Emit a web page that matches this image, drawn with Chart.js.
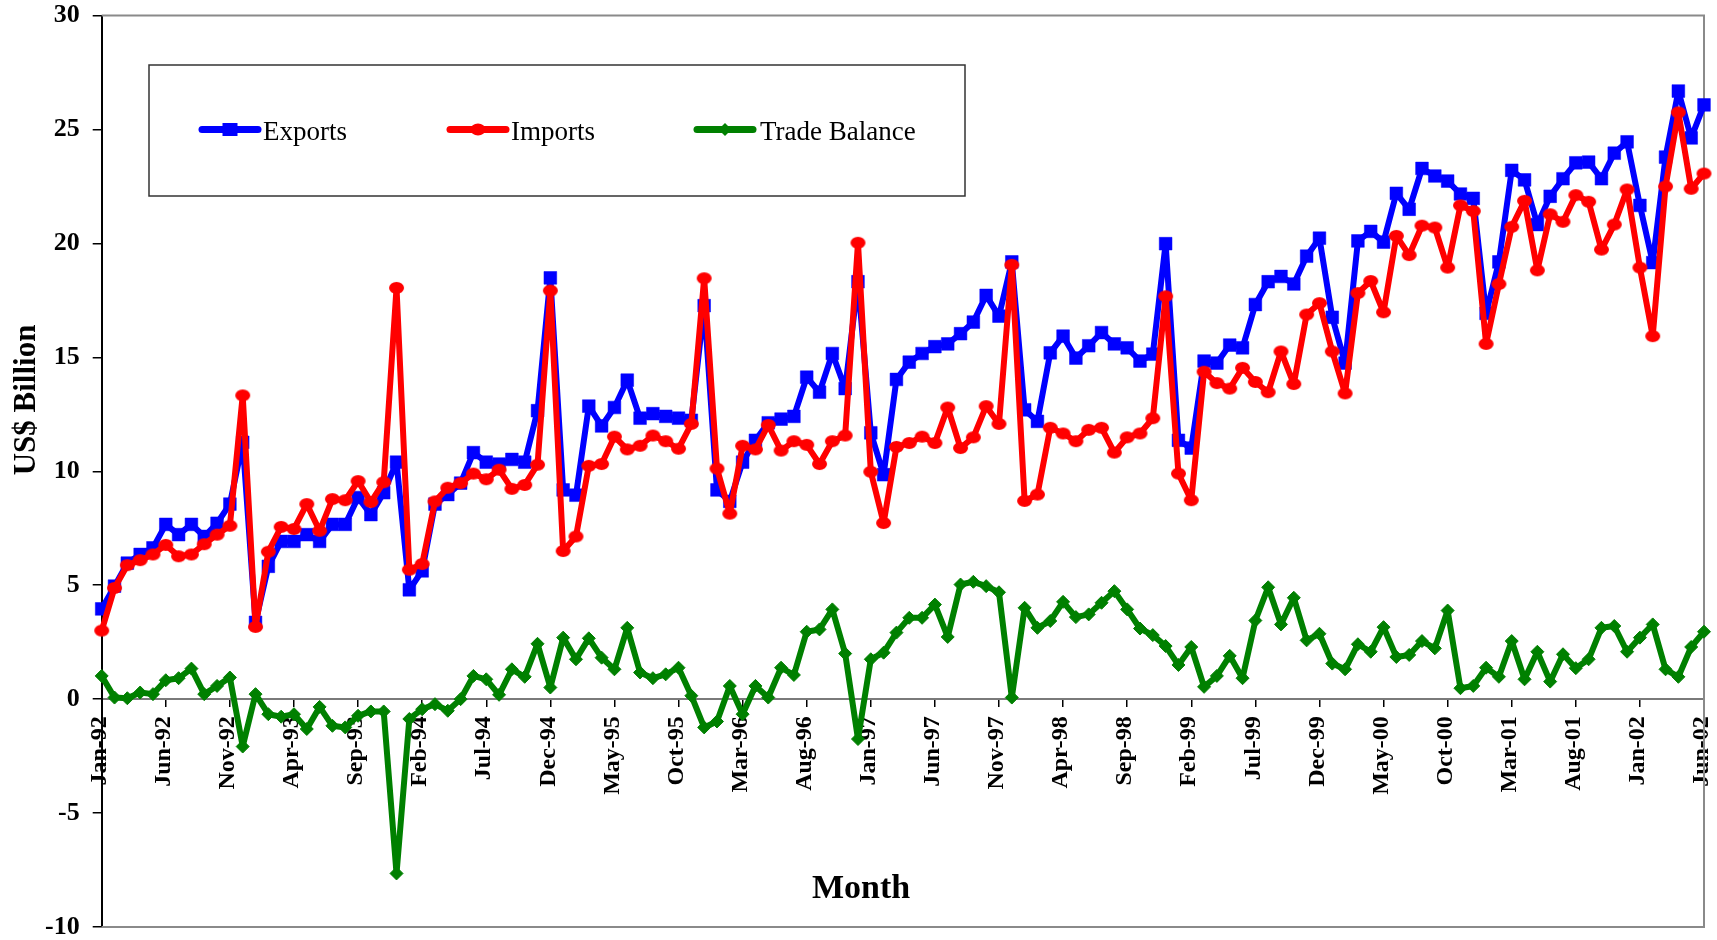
<!DOCTYPE html>
<html>
<head>
<meta charset="utf-8">
<title>Exports, Imports and Trade Balance</title>
<script src="https://cdn.jsdelivr.net/npm/chart.js@4.4.1/dist/chart.umd.min.js"></script>
<style>
  html, body { margin: 0; padding: 0; background: #ffffff; }
  #wrap { position: relative; width: 1717px; height: 940px; }
</style>
</head>
<body>
<div id="wrap"><canvas id="chart"></canvas></div>
<script>
// Monthly series, Jan-92 .. Jun-02, US$ billion
const MONTH_NAMES = ['Jan', 'Feb', 'Mar', 'Apr', 'May', 'Jun', 'Jul', 'Aug', 'Sep', 'Oct', 'Nov', 'Dec'];
const FIRST_YEAR = 1992;
const MONTH_COUNT = 126;
const categories = Array.from({ length: MONTH_COUNT }, (_, i) =>
  MONTH_NAMES[i % 12] + '-' + String((FIRST_YEAR + Math.floor(i / 12)) % 100).padStart(2, '0'));

// Month labels printed under the zero line
const TICK_LABELS = ['Jan-92', 'Jun-92', 'Nov-92', 'Apr-93', 'Sep-93', 'Feb-94', 'Jul-94', 'Dec-94',
  'May-95', 'Oct-95', 'Mar-96', 'Aug-96', 'Jan-97', 'Jun-97', 'Nov-97', 'Apr-98', 'Sep-98', 'Feb-99',
  'Jul-99', 'Dec-99', 'May-00', 'Oct-00', 'Mar-01', 'Aug-01', 'Jan-02', 'Jun-02'];

const exportsSeries = [
  3.96, 4.96, 5.97, 6.35, 6.64, 7.67, 7.22, 7.67, 7.14, 7.72,
  8.56, 11.27, 3.37, 5.83, 6.92, 6.92, 7.22, 6.92, 7.67, 7.67,
  8.85, 8.10, 9.06, 10.40, 4.80, 5.63, 8.56, 8.98, 9.48, 10.82,
  10.40, 10.32, 10.52, 10.40, 12.66, 18.49, 9.18, 8.95, 12.86, 11.99,
  12.80, 14.00, 12.33, 12.53, 12.41, 12.33, 12.24, 17.27, 9.18, 8.68,
  10.40, 11.36, 12.13, 12.29, 12.41, 14.13, 13.47, 15.17, 13.63, 18.32,
  11.69, 9.85, 14.03, 14.79, 15.17, 15.47, 15.59, 16.04, 16.55, 17.72,
  16.81, 19.19, 12.70, 12.19, 15.20, 15.93, 14.97, 15.51, 16.09, 15.59,
  15.42, 14.84, 15.14, 19.99, 11.36, 11.02, 14.84, 14.75, 15.54, 15.42,
  17.32, 18.32, 18.55, 18.22, 19.44, 20.23, 16.76, 14.75, 20.11, 20.53,
  20.06, 22.20, 21.50, 23.29, 22.96, 22.74, 22.17, 21.98, 16.93, 19.19,
  23.21, 22.79, 20.83, 22.07, 22.84, 23.54, 23.57, 22.84, 23.96, 24.46,
  21.67, 19.16, 23.79, 26.69, 24.63, 26.08
];

const importsSeries = [
  3.01, 4.88, 5.88, 6.10, 6.35, 6.77, 6.27, 6.35, 6.80, 7.22,
  7.61, 13.33, 3.17, 6.47, 7.56, 7.47, 8.56, 7.39, 8.78, 8.73,
  9.57, 8.65, 9.52, 18.05, 5.68, 5.93, 8.68, 9.28, 9.48, 9.90,
  9.65, 10.07, 9.23, 9.40, 10.29, 17.93, 6.50, 7.14, 10.24, 10.32,
  11.52, 10.96, 11.12, 11.57, 11.32, 10.99, 12.08, 18.47, 10.12, 8.14,
  11.12, 10.96, 12.03, 10.91, 11.32, 11.16, 10.32, 11.32, 11.57, 20.03,
  9.98, 7.73, 11.07, 11.24, 11.52, 11.24, 12.80, 11.02, 11.49, 12.86,
  12.08, 19.06, 8.70, 8.98, 11.91, 11.66, 11.32, 11.82, 11.91, 10.82,
  11.49, 11.66, 12.33, 17.68, 9.90, 8.73, 14.37, 13.87, 13.63, 14.54,
  13.92, 13.47, 15.26, 13.83, 16.88, 17.38, 15.26, 13.42, 17.82, 18.35,
  16.98, 20.33, 19.49, 20.78, 20.70, 18.94, 21.67, 21.42, 15.59, 18.22,
  20.73, 21.87, 18.82, 21.28, 20.95, 22.12, 21.83, 19.73, 20.83, 22.37,
  18.94, 15.93, 22.50, 25.75, 22.40, 23.07
];

const balanceSeries = [
  1.02, 0.07, 0.04, 0.29, 0.22, 0.83, 0.92, 1.34, 0.22, 0.58,
  0.95, -2.08, 0.22, -0.66, -0.77, -0.66, -1.31, -0.34, -1.17, -1.24,
  -0.73, -0.54, -0.54, -7.65, -0.87, -0.44, -0.22, -0.51, 0.00, 1.02,
  0.87, 0.19, 1.31, 0.98, 2.43, 0.51, 2.70, 1.75, 2.67, 1.82,
  1.31, 3.13, 1.17, 0.92, 1.09, 1.38, 0.15, -1.24, -0.98, 0.58,
  -0.66, 0.58, 0.07, 1.38, 1.06, 2.96, 3.06, 3.94, 2.00, -1.75,
  1.75, 2.04, 2.92, 3.57, 3.57, 4.15, 2.73, 5.03, 5.15, 4.96,
  4.69, 0.07, 4.01, 3.13, 3.43, 4.27, 3.60, 3.72, 4.23, 4.74,
  3.94, 3.10, 2.81, 2.33, 1.50, 2.29, 0.54, 1.02, 1.90, 0.92,
  3.45, 4.91, 3.28, 4.45, 2.58, 2.87, 1.56, 1.31, 2.41, 2.08,
  3.16, 1.85, 1.94, 2.55, 2.23, 3.89, 0.48, 0.58, 1.38, 0.98,
  2.55, 0.87, 2.08, 0.77, 1.97, 1.36, 1.75, 3.13, 3.21, 2.08,
  2.70, 3.28, 1.31, 0.98, 2.29, 2.96
];

const Y_MIN = -10, Y_MAX = 30, Y_STEP = 5;

const BLUE = '#0000ff', RED = '#ff0000', GREEN = '#008000';
const SERIF = "'Liberation Serif', 'Times New Roman', Times, serif";

// slightly flattened round marker for the imports line
function ovalMarker(color, w, h) {
  const c = document.createElement('canvas');
  c.width = w + 2; c.height = h + 2;
  const g = c.getContext('2d');
  g.fillStyle = color;
  g.beginPath();
  g.ellipse(c.width / 2, c.height / 2, w / 2, h / 2, 0, 0, Math.PI * 2);
  g.fill();
  return c;
}
const importMarker = ovalMarker(RED, 15, 12);

// grey frame on the top, right and bottom of the plot area
const plotFrame = {
  id: 'plotFrame',
  beforeDatasetsDraw(chart) {
    const { ctx, chartArea: a } = chart;
    ctx.save();
    ctx.strokeStyle = '#8a8a8a';
    ctx.lineWidth = 2;
    ctx.beginPath();
    ctx.moveTo(a.left, a.top);
    ctx.lineTo(a.right, a.top);
    ctx.lineTo(a.right, a.bottom);
    ctx.lineTo(a.left, a.bottom);
    ctx.stroke();
    ctx.restore();
  }
};

// axis titles
const axisTitles = {
  id: 'axisTitles',
  afterDraw(chart) {
    const { ctx } = chart;
    ctx.save();
    ctx.fillStyle = '#000';
    ctx.font = 'bold 34px ' + SERIF;
    ctx.textAlign = 'center';
    ctx.textBaseline = 'alphabetic';
    ctx.fillText('Month', 861, 898);
    ctx.translate(35, 400);
    ctx.rotate(-Math.PI / 2);
    ctx.font = 'bold 31px ' + SERIF;
    ctx.fillText('US$ Billion', 0, 0);
    ctx.restore();
  }
};

// boxed legend inside the plot
const legendBox = {
  id: 'legendBox',
  afterDatasetsDraw(chart) {
    const { ctx } = chart;
    const box = { x: 149, y: 65, w: 816, h: 131 };
    const cy = 129.5;
    ctx.save();
    ctx.fillStyle = '#fff';
    ctx.fillRect(box.x, box.y, box.w, box.h);
    ctx.strokeStyle = '#333';
    ctx.lineWidth = 1.5;
    ctx.strokeRect(box.x, box.y, box.w, box.h);

    const items = [
      { label: chart.data.datasets[0].label, color: BLUE, x0: 202, x1: 258, tx: 263, mark: 'square' },
      { label: chart.data.datasets[1].label, color: RED, x0: 450, x1: 506, tx: 511, mark: 'oval' },
      { label: chart.data.datasets[2].label, color: GREEN, x0: 697, x1: 753, tx: 760, mark: 'diamond' }
    ];
    ctx.font = '27px ' + SERIF;
    ctx.textBaseline = 'alphabetic';
    ctx.textAlign = 'left';
    for (const it of items) {
      ctx.strokeStyle = it.color;
      ctx.fillStyle = it.color;
      ctx.lineWidth = 7;
      ctx.lineCap = 'round';
      ctx.beginPath();
      ctx.moveTo(it.x0, cy);
      ctx.lineTo(it.x1, cy);
      ctx.stroke();
      const mx = (it.x0 + it.x1) / 2;
      ctx.beginPath();
      if (it.mark === 'square') {
        ctx.rect(mx - 7.5, cy - 6.5, 15, 13);
      } else if (it.mark === 'oval') {
        ctx.ellipse(mx, cy, 7.5, 6, 0, 0, Math.PI * 2);
      } else {
        ctx.moveTo(mx - 6.5, cy); ctx.lineTo(mx, cy - 6.5); ctx.lineTo(mx + 6.5, cy); ctx.lineTo(mx, cy + 6.5);
        ctx.closePath();
      }
      ctx.fill();
      ctx.fillStyle = '#000';
      ctx.fillText(it.label, it.tx, 140);
    }
    ctx.restore();
  }
};

new Chart(document.getElementById('chart'), {
  type: 'line',
  data: {
    labels: categories,
    datasets: [
      {
        label: 'Exports', data: exportsSeries, order: 3,
        borderColor: BLUE, backgroundColor: BLUE, borderWidth: 6,
        pointStyle: 'rect', pointRadius: 9, pointBorderWidth: 0.5,
        pointBorderColor: BLUE, pointBackgroundColor: BLUE
      },
      {
        label: 'Imports', data: importsSeries, order: 2,
        borderColor: RED, backgroundColor: RED, borderWidth: 6,
        pointStyle: importMarker, pointRadius: 7
      },
      {
        label: 'Trade Balance', data: balanceSeries, order: 1,
        borderColor: GREEN, backgroundColor: GREEN, borderWidth: 6,
        pointStyle: 'rectRot', pointRadius: 6.5, pointBorderWidth: 1,
        pointBorderColor: GREEN, pointBackgroundColor: GREEN
      }
    ]
  },
  options: {
    responsive: true,
    maintainAspectRatio: false,
    animation: false,
    events: [],
    layout: { padding: { left: 0, top: 15.6, right: 10.3, bottom: 9.6 } },
    elements: { line: { tension: 0, borderJoinStyle: 'round', borderCapStyle: 'round' } },
    plugins: { legend: { display: false }, tooltip: { enabled: false } },
    scales: {
      x: {
        type: 'category',
        position: { y: 0 },
        grid: { drawOnChartArea: false, drawTicks: true, tickLength: 7, color: '#000', lineWidth: 1.5 },
        border: { display: true, color: '#7a7a7a', width: 2 },
        ticks: {
          autoSkip: false, minRotation: 90, maxRotation: 90, padding: 10, labelOffset: -2,
          color: '#000', font: { family: SERIF, size: 24, weight: 'bold' },
          callback(value) {
            const lab = this.getLabelForValue(value);
            return TICK_LABELS.includes(lab) ? lab : null;
          }
        },
        afterFit(scale) { scale.paddingLeft = 0; scale.paddingRight = 0; }
      },
      y: {
        min: Y_MIN, max: Y_MAX,
        grid: { drawOnChartArea: false, drawTicks: true, tickLength: 9, color: '#000', lineWidth: 1.5 },
        border: { display: true, color: '#000', width: 2 },
        ticks: {
          stepSize: Y_STEP, padding: 13, color: '#000',
          font: { family: SERIF, size: 26, weight: 'bold' }
        },
        afterFit(scale) { scale.width = 101.7; scale.paddingTop = 0; scale.paddingBottom = 0; }
      }
    }
  },
  plugins: [plotFrame, legendBox, axisTitles]
});
</script>
</body>
</html>
